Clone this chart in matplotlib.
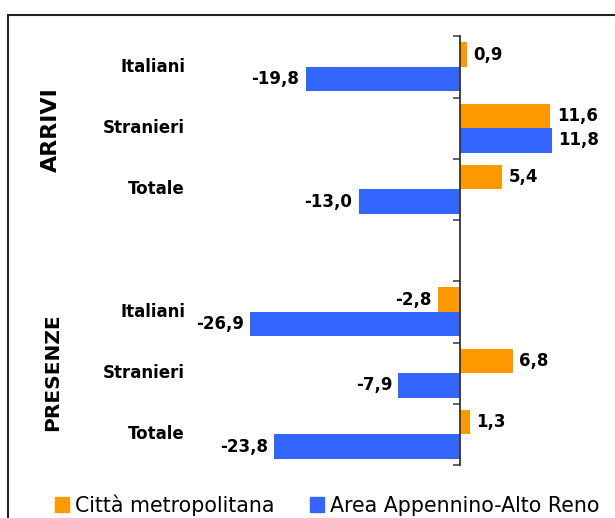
import matplotlib
matplotlib.use("Agg")
import matplotlib.pyplot as plt
from matplotlib.patches import Patch, Rectangle
import numpy as np

categorie = ["Italiani", "Stranieri", "Totale", "", "Italiani", "Stranieri", "Totale"]
gruppi = ["ARRIVI", "PRESENZE"]
citta = [0.9, 11.6, 5.4, None, -2.8, 6.8, 1.3]
area = [-19.8, 11.8, -13.0, None, -26.9, -7.9, -23.8]
serie = ["Città metropolitana", "Area Appennino-Alto Reno"]
colori = ["#FF9900", "#3366FF"]

W, H = 615, 518
fig = plt.figure(figsize=(W / 100, H / 100), dpi=100)

# axes placed so that 0 sits at x=460 px and the ticks span 36..465 px
x0, x1 = -30, 16
left_px, right_px = 460 - 30 * 7.8, 460 + 16 * 7.8
top_px, bot_px = 36.3, 465
ax = fig.add_axes([left_px / W, 1 - bot_px / H, (right_px - left_px) / W, (bot_px - top_px) / H])

y = np.arange(len(categorie))
h = 0.4
for vals, col, off in [(citta, colori[0], -h / 2), (area, colori[1], h / 2)]:
    for yi, v in zip(y, vals):
        if v is None:
            continue
        ax.barh(yi + off, v, height=h, color=col)
        txt = f"{v:.1f}".replace(".", ",")
        if v >= 0:
            ax.text(v + 0.8, yi + off, txt, ha="left", va="center",
                    fontsize=12, fontweight="bold")
        else:
            ax.text(v - 0.8, yi + off, txt, ha="right", va="center",
                    fontsize=12, fontweight="bold")

ax.set_xlim(x0, x1)
ax.set_ylim(len(categorie) - 0.5, -0.5)
for s in ["top", "right", "bottom"]:
    ax.spines[s].set_visible(False)
ax.spines["left"].set_position(("data", 0))
ax.spines["left"].set_color("#333333")
ax.spines["left"].set_linewidth(1.3)
ax.set_yticks(np.arange(-0.5, len(categorie), 1))
ax.set_yticklabels([])
ax.tick_params(axis="y", direction="out", length=5, color="#555555", width=1.3)
ax.set_xticks([])

tr = ax.get_yaxis_transform()
for yi, c in zip(y, categorie):
    if c:
        ax.text((185 - left_px) / (right_px - left_px), yi, c, transform=tr,
                ha="right", va="center", fontsize=12, fontweight="bold")

fig.text(51 / W, 1 - 130 / H, gruppi[0], rotation=90, ha="center", va="center",
         fontsize=16, fontweight="bold")
fig.text(53 / W, 1 - 372 / H, gruppi[1], rotation=90, ha="center", va="center",
         fontsize=14.5, fontweight="bold")

handles = [Patch(color=c, label=s) for c, s in zip(colori, serie)]
fig.legend(handles=handles, loc="center", bbox_to_anchor=(327 / W, 1 - 505 / H),
           ncol=2, frameon=False, fontsize=14.8, handlelength=0.7, handleheight=0.7,
           handletextpad=0.25, columnspacing=1.75, borderpad=0)

# outer frame, cut by the image edges on the right and bottom
fig.add_artist(Rectangle((8 / W, -0.1), 1.2, 1.1 - 15 / H, transform=fig.transFigure,
                         fill=False, ec="#222222", lw=1.5))

fig.savefig("out.png", dpi=100)
